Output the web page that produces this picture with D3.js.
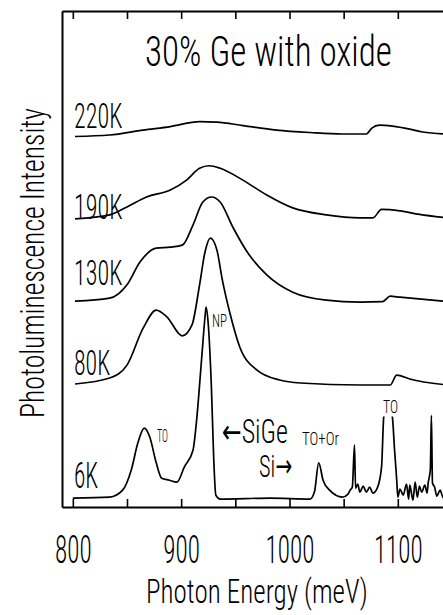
<!DOCTYPE html>
<html>
<head>
<meta charset="utf-8">
<script src="https://cdn.jsdelivr.net/npm/d3@7"></script>
<style>
body { margin: 0; background: #fff; }
svg text { font-family: "Roboto Condensed", "Liberation Sans Narrow", "DejaVu Sans Condensed", Roboto, "Liberation Sans", sans-serif; font-weight: 300; fill: #000; }
</style>
</head>
<body>
<svg id="chart" width="443" height="615"></svg>
<script>
// photon energy (meV) and PL intensity (arb. units, curves stacked with offsets)
var e220 = [802, 834, 865, 890, 917, 933, 957, 988, 1019, 1049, 1071, 1076, 1083, 1095, 1111, 1123, 1146];
var i220 = [74.7, 75.0, 76.0, 76.7, 77.7, 77.6, 76.9, 76.0, 75.5, 75.2, 75.2, 76.4, 77.0, 76.8, 76.2, 75.6, 75.2];

var e190 = [802, 834, 850, 868, 890, 905, 917, 926, 936, 957, 979, 1003, 1034, 1065, 1077, 1085, 1102, 1120, 1146];
var i190 = [58.1, 58.9, 60.5, 62.5, 63.9, 65.9, 68.3, 68.8, 68.3, 65.9, 62.9, 60.3, 58.9, 58.3, 58.3, 60.0, 59.7, 59.0, 58.3];

var e130 = [802, 834, 850, 862, 877, 890, 901, 911, 920, 928, 936, 948, 961, 979, 1003, 1034, 1065, 1086, 1093, 1102, 1146];
var i130 = [41.5, 42.1, 44.8, 49.4, 52.2, 52.4, 52.8, 56.9, 61.5, 62.5, 61.5, 56.3, 51.4, 46.8, 43.3, 41.7, 41.3, 41.4, 42.5, 42.3, 41.4];

var e80 = [802, 834, 850, 865, 877, 887, 901, 910, 917, 922, 927, 933, 938, 945, 954, 970, 991, 1010, 1065, 1093, 1099, 1111, 1146];
var i80 = [24.8, 26.0, 28.6, 36.1, 39.7, 38.3, 34.5, 36.7, 44.8, 51.4, 54.2, 51.8, 45.8, 39.1, 32.3, 27.6, 25.6, 25.0, 24.6, 24.6, 26.6, 25.8, 24.6];

var e6 = [800, 834, 846, 854, 860, 866, 871, 877, 882, 889, 896, 903, 911, 914, 919, 922, 923, 925, 928, 930,
          932, 936, 982, 1019, 1023, 1027, 1031, 1037, 1049, 1054, 1056, 1058, 1060, 1061, 1063, 1065, 1068, 1071, 1074, 1077,
          1081, 1085, 1087, 1091, 1095, 1097, 1099, 1100, 1102, 1105, 1108, 1110, 1111, 1114, 1116, 1118, 1120, 1122, 1125, 1127,
          1128, 1130, 1131, 1132, 1134, 1136, 1139, 1142, 1146];
var i6 = [1.8, 2.0, 3.4, 7.5, 12.9, 15.9, 14.1, 8.9, 5.8, 5.4, 5.0, 8.1, 11.5, 16.9, 30.2, 38.3, 40.3, 36.9, 23.6, 10.1,
          2.4, 1.6, 1.8, 1.6, 3.0, 8.9, 5.4, 3.4, 2.0, 2.6, 3.4, 4.0, 12.5, 3.8, 4.6, 3.0, 4.2, 3.0, 4.0, 2.8,
          3.8, 8.1, 18.1, 21.5, 18.1, 11.5, 5.4, 2.0, 3.6, 2.4, 4.6, 1.6, 4.4, 1.4, 5.0, 2.0, 4.2, 3.0, 4.4, 2.8,
          4.8, 7.5, 18.5, 4.8, 4.0, 2.2, 3.4, 1.8, 2.2];

var curveNames = ["220K", "190K", "130K", "80K", "6K"];
var labelLevel = [76.4, 58.1, 44.8, 26.6, 3.8];
var tickLabels = [800, 900, 1000, 1100];
var tickAll = [800, 850, 900, 950, 1000, 1050, 1100, 1150];

var series = [
    {name: "220K", e: e220, i: i220},
    {name: "190K", e: e190, i: i190},
    {name: "130K", e: e130, i: i130},
    {name: "80K", e: e80, i: i80},
    {name: "6K", e: e6, i: i6}
];

var svg = d3.select("#chart");

var x = d3.scaleLinear().domain([790, 1155]).range([62, 457.4]);
var y = d3.scaleLinear().domain([0, 100]).range([507, 11]);

// squeeze a text horizontally so it spans len pixels (condensed face look)
function fit(t, len) {
    var w = t.node().getComputedTextLength();
    t.attr("transform", "scale(" + (len / w) + ",1)");
}

function txt(px, py, s, size, len, anchor) {
    var g = svg.append("g").attr("transform", "translate(" + px + "," + py + ")");
    var t = g.append("text")
        .attr("font-size", size)
        .attr("text-anchor", anchor || "start")
        .text(s);
    fit(t, len);
    return g;
}

// curves
var line = d3.line()
    .x(function(d) { return x(d[0]); })
    .y(function(d) { return y(d[1]); })
    .curve(d3.curveMonotoneX);

svg.append("g").selectAll("path")
    .data(series)
    .enter().append("path")
    .attr("d", function(s) { return line(d3.zip(s.e, s.i)); })
    .attr("fill", "none")
    .attr("stroke", "#000")
    .attr("stroke-width", 1.7)
    .attr("stroke-linejoin", "round");

// frame + ticks
var bottom = svg.append("g")
    .attr("transform", "translate(0,507)")
    .call(d3.axisBottom(x).tickValues(tickAll).tickSize(-8).tickSizeOuter(0)
        .tickFormat(function(d) { return tickLabels.indexOf(d) >= 0 ? d : ""; }));
svg.append("g")
    .attr("transform", "translate(0,11)")
    .call(d3.axisTop(x).tickValues(tickAll).tickSize(-8).tickSizeOuter(0).tickFormat(""));
svg.append("g")
    .attr("transform", "translate(62,0)")
    .call(d3.axisLeft(y).tickValues([]).tickSizeOuter(0));

svg.selectAll(".domain").attr("stroke-width", 2);
svg.selectAll(".tick line").attr("stroke-width", 1.6);

bottom.attr("font-family", null).attr("font-size", null);
bottom.selectAll(".tick text")
    .attr("y", 56).attr("dy", 0)
    .attr("font-size", 38)
    .attr("fill", "#000")
    .each(function(d) {
        if (tickLabels.indexOf(d) >= 0) fit(d3.select(this), String(d).length * 12.2);
    });

// curve labels
curveNames.forEach(function(n, k) {
    txt(74, y(labelLevel[k]), n, 36, n.length * 12.1);
});

// mask where the Si TO peak runs under its label
svg.append("rect")
    .attr("x", 380).attr("y", 394).attr("width", 20).attr("height", 22.5)
    .attr("fill", "#fff");

// annotations
txt(145, 66, "30% Ge with oxide", 43, 247);
txt(157, 442, "TO", 19, 11);
txt(212, 327, "NP", 19, 15);
txt(222, 443, "\u2190SiGe", 33, 66);
txt(259, 477, "Si\u2192", 32, 33);
txt(302, 445, "TO+Or", 19, 37);
txt(383, 413, "TO", 19, 15);

// y title
var yt = svg.append("g").attr("transform", "translate(44,263) rotate(-90)")
    .append("text")
    .attr("text-anchor", "middle")
    .attr("font-size", 33)
    .text("Photoluminescence Intensity");
fit(yt, 310);

// x title
txt(146, 603, "Photon Energy (meV)", 34, 222);
</script>
</body>
</html>
